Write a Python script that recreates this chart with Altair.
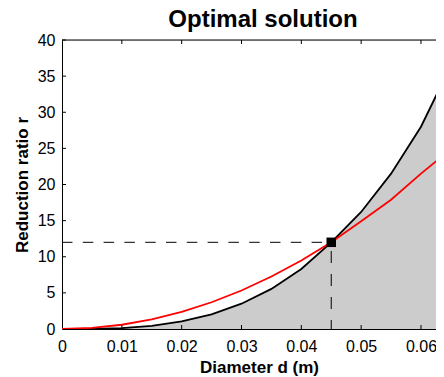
import altair as alt
import pandas as pd

# ---- data ----
d_vals = [0, 0.005, 0.01, 0.015, 0.02, 0.025, 0.03, 0.035, 0.04, 0.045, 0.05, 0.055, 0.06, 0.065]
r_black = [0, 0.016, 0.13, 0.44, 1.04, 2.03, 3.5, 5.55, 8.3, 12.0, 16.2, 21.5, 28.0, 36.5]
r_red = [0, 0.15, 0.59, 1.33, 2.37, 3.7, 5.33, 7.26, 9.48, 12.0, 14.9, 17.9, 21.5, 24.9]
opt_d = 0.045
opt_r = 12
x_ticks = [0, 0.01, 0.02, 0.03, 0.04, 0.05, 0.06]
y_ticks = [0, 5, 10, 15, 20, 25, 30, 35, 40]

W, H = 374, 289
PX_PER_D = 5983.0
FONT = "Liberation Sans"

curves = pd.DataFrame({"d": d_vals, "black": r_black, "red": r_red})
opt = pd.DataFrame({"d": [opt_d], "r": [opt_r], "d0": [0], "r0": [0]})
xt = pd.DataFrame({"d": x_ticks[1:]})
yt = pd.DataFrame({"r": y_ticks[1:]})

xs = alt.Scale(domain=[0, W / PX_PER_D], nice=False, zero=False)
ys = alt.Scale(domain=[0, 40], nice=False)

xaxis = alt.Axis(values=x_ticks, format=".2~f", tickSize=0, grid=False,
                 domainColor="black", domainWidth=1, labelFontSize=16, labelFont=FONT,
                 labelColor="black", labelPadding=9, labelFlush=False, labelOverlap=False,
                 title="Diameter d (m)", titleFont=FONT, titleFontSize=17, titleFontWeight="bold",
                 titleColor="black", titleBaseline="alphabetic", titleX=197, titleY=43,
                 titleAlign="center")
yaxis = alt.Axis(values=y_ticks, tickSize=0, grid=False, domainColor="black", domainWidth=1,
                 labelFontSize=16, labelFont=FONT, labelColor="black", labelPadding=7,
                 labelOverlap=False, labelFlush=False,
                 title="Reduction ratio r", titleFont=FONT, titleFontSize=17,
                 titleFontWeight="bold", titleColor="black", titleBaseline="alphabetic",
                 titleX=-35, titleY=144.5, titleAngle=-90, titleAlign="center")


def X(f):
    return alt.X(f, scale=xs, axis=xaxis, title="Diameter d (m)")


def Y(f):
    return alt.Y(f, scale=ys, axis=yaxis, title="Reduction ratio r")


base = alt.Chart(curves)

area = base.mark_area(color="#cccccc", clip=True).encode(x=X("d:Q"), y=Y("black:Q"))
black = base.mark_line(color="black", strokeWidth=1.8, clip=True).encode(x=X("d:Q"), y=Y("black:Q"))
red = base.mark_line(color="#ff0000", strokeWidth=1.8, clip=True).encode(x=X("d:Q"), y=Y("red:Q"))

hline = alt.Chart(opt).mark_rule(color="black", strokeWidth=1, strokeDash=[10.5, 10.3]).encode(
    x=X("d0:Q"), x2="d:Q", y=Y("r:Q"))
vline = alt.Chart(opt).mark_rule(color="black", strokeWidth=1, strokeDash=[12, 11],
                                 strokeDashOffset=3).encode(
    x=X("d:Q"), y=Y("r0:Q"), y2="r:Q")
pt = alt.Chart(opt).mark_square(size=90, color="black", opacity=1).encode(x=X("d:Q"), y=Y("r:Q"))

xt_bot = alt.Chart(xt).mark_rule(color="black", strokeWidth=1).encode(
    x=X("d:Q"), y=alt.value(H), y2=alt.value(H - 4))
xt_top = alt.Chart(xt).mark_rule(color="black", strokeWidth=1).encode(
    x=X("d:Q"), y=alt.value(0), y2=alt.value(4))
yt_left = alt.Chart(yt).mark_rule(color="black", strokeWidth=1).encode(
    y=Y("r:Q"), x=alt.value(0), x2=alt.value(4))
top_line = alt.Chart(opt).mark_rule(color="black", strokeWidth=1).encode(
    x=alt.value(0), x2=alt.value(W), y=alt.value(0))

chart = alt.layer(area, hline, vline, black, red, pt, xt_bot, xt_top, yt_left, top_line).properties(
    width=W, height=H,
    title=alt.TitleParams("Optimal solution", font=FONT, fontSize=24, fontWeight="bold",
                          color="black", anchor="middle", dx=14, offset=0),
    autosize=alt.AutoSizeParams(type="none"),
    padding={"left": 54, "top": 32, "right": 0, "bottom": 48},
).configure_view(stroke=None).configure(background="white")

chart.save("out.html", embed_options={"renderer": "svg", "actions": False})
